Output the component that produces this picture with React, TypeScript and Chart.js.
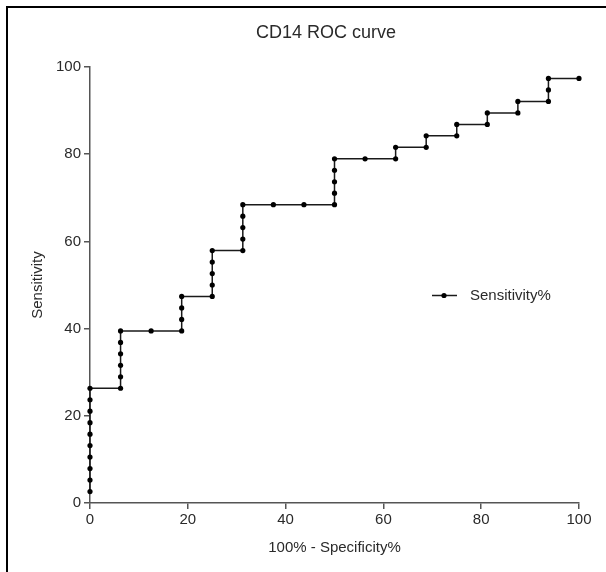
import React, { useEffect, useRef } from "react";
import { Chart, registerables } from "chart.js";

Chart.register(...registerables);

const TITLE = "CD14 ROC curve";
const X_TITLE = "100% - Specificity%";
const Y_TITLE = "Sensitivity";
const SERIES_NAME = "Sensitivity%";

// 100% - Specificity%
const fprValues = [
  0, 0, 0, 0, 0, 0, 0, 0, 0, 0,
  6.25, 6.25, 6.25, 6.25, 6.25, 6.25,
  12.5,
  18.75, 18.75, 18.75, 18.75,
  25, 25, 25, 25, 25,
  31.25, 31.25, 31.25, 31.25, 31.25,
  37.5, 43.75,
  50, 50, 50, 50, 50,
  56.25,
  62.5, 62.5,
  68.75, 68.75,
  75, 75,
  81.25, 81.25,
  87.5, 87.5,
  93.75, 93.75, 93.75,
  100,
];

// Sensitivity%
const sensValues = [
  2.63, 5.26, 7.89, 10.53, 13.16, 15.79, 18.42, 21.05, 23.68, 26.32,
  26.32, 28.95, 31.58, 34.21, 36.84, 39.47,
  39.47,
  39.47, 42.11, 44.74, 47.37,
  47.37, 50.0, 52.63, 55.26, 57.89,
  57.89, 60.53, 63.16, 65.79, 68.42,
  68.42, 68.42,
  68.42, 71.05, 73.68, 76.32, 78.95,
  78.95,
  78.95, 81.58,
  81.58, 84.21,
  84.21, 86.84,
  86.84, 89.47,
  89.47, 92.11,
  92.11, 94.74, 97.37,
  97.37,
];

const FONT = "'Liberation Sans', Arial, sans-serif";
const TEXT_COLOR = "#2a2a2a";
const AXIS_COLOR = "#555";
const LINE_COLOR = "#1a1a1a";

export default function App() {
  const ref = useRef<HTMLCanvasElement | null>(null);

  useEffect(() => {
    if (!ref.current) return;
    const points = fprValues.map((x, i) => ({ x, y: sensValues[i] }));

    const decorPlugin = {
      id: "decor",
      beforeDraw(chart: any) {
        const ctx = chart.ctx;
        ctx.save();
        ctx.fillStyle = "#fff";
        ctx.fillRect(0, 0, chart.width, chart.height);
        ctx.fillStyle = "#000";
        ctx.fillRect(6, 6, chart.width - 6, 2);
        ctx.fillRect(6, 6, 2, chart.height - 6);
        ctx.restore();
      },
      afterDraw(chart: any) {
        const ctx = chart.ctx;
        ctx.save();
        // title
        ctx.fillStyle = TEXT_COLOR;
        ctx.font = `18px ${FONT}`;
        ctx.textAlign = "center";
        ctx.textBaseline = "middle";
        ctx.fillText(TITLE, 326, 33);
        // legend
        ctx.strokeStyle = LINE_COLOR;
        ctx.lineWidth = 1.5;
        ctx.beginPath();
        ctx.moveTo(432, 295.5);
        ctx.lineTo(457, 295.5);
        ctx.stroke();
        ctx.fillStyle = "#000";
        ctx.beginPath();
        ctx.arc(444, 295.5, 2.6, 0, Math.PI * 2);
        ctx.fill();
        ctx.fillStyle = TEXT_COLOR;
        ctx.font = `15px ${FONT}`;
        ctx.textAlign = "left";
        ctx.fillText(SERIES_NAME, 470, 296);
        ctx.restore();
      },
    };

    const chart = new Chart(ref.current, {
      type: "line",
      data: {
        datasets: [
          {
            label: SERIES_NAME,
            data: points,
            borderColor: LINE_COLOR,
            borderWidth: 1.5,
            backgroundColor: "#000",
            pointBackgroundColor: "#000",
            pointBorderColor: "#000",
            pointBorderWidth: 0,
            pointRadius: 2.6,
            tension: 0,
            fill: false,
            clip: false,
          },
        ],
      },
      options: {
        responsive: false,
        animation: false,
        layout: { padding: { top: 67, left: 0, right: 27, bottom: 0 } },
        plugins: {
          legend: { display: false },
          title: { display: false },
          tooltip: { enabled: false },
        },
        scales: {
          x: {
            type: "linear",
            min: 0,
            max: 100,
            ticks: {
              stepSize: 20,
              font: { family: FONT, size: 15 },
              color: TEXT_COLOR,
              padding: 2,
              maxRotation: 0,
            },
            grid: {
              display: true,
              drawOnChartArea: false,
              drawTicks: true,
              tickLength: 6,
              color: AXIS_COLOR,
              lineWidth: 1.5,
            },
            border: { display: true, color: AXIS_COLOR, width: 1.5 },
            title: {
              display: true,
              text: X_TITLE,
              font: { family: FONT, size: 15 },
              color: TEXT_COLOR,
              padding: { top: 0, bottom: 15 },
            },
            afterFit: (s: any) => {
              s.height = 69;
            },
          },
          y: {
            type: "linear",
            min: 0,
            max: 100,
            ticks: {
              stepSize: 20,
              font: { family: FONT, size: 15 },
              color: TEXT_COLOR,
              padding: 3,
            },
            grid: {
              display: true,
              drawOnChartArea: false,
              drawTicks: true,
              tickLength: 6,
              color: AXIS_COLOR,
              lineWidth: 1.5,
            },
            border: { display: true, color: AXIS_COLOR, width: 1.5 },
            title: {
              display: true,
              text: Y_TITLE,
              font: { family: FONT, size: 15 },
              color: TEXT_COLOR,
              padding: { top: 29, bottom: 0 },
            },
            afterFit: (s: any) => {
              s.width = 90;
            },
          },
        },
      },
      plugins: [decorPlugin],
    });

    return () => chart.destroy();
  }, []);

  return (
    <div style={{ position: "absolute", left: 0, top: 0, width: 606, height: 572 }}>
      <canvas ref={ref} width={606} height={572} style={{ display: "block" }} />
    </div>
  );
}
